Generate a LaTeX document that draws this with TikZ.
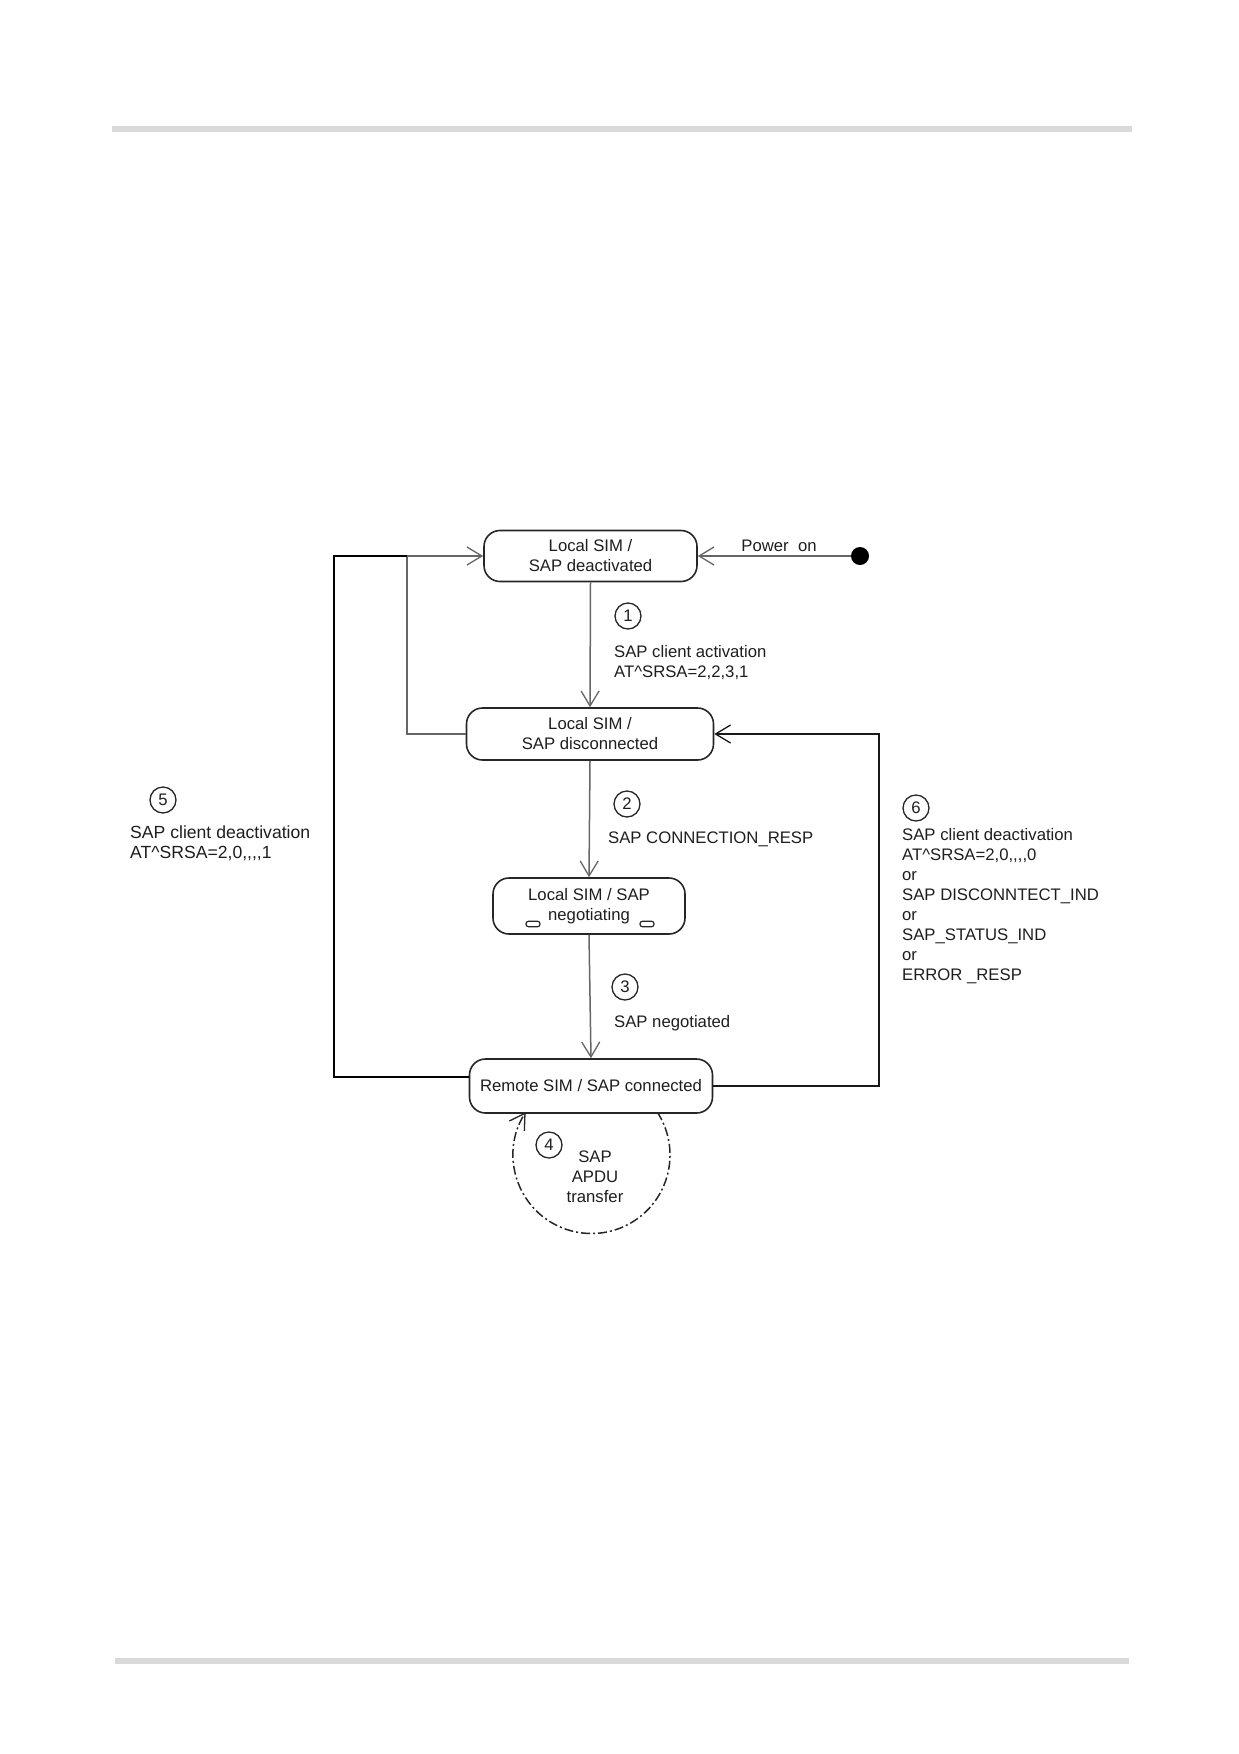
\documentclass[tikz,border=0pt]{standalone}
\usepackage{fontspec}
\setmainfont{Liberation Sans}[Ligatures=TeXOff]
\usetikzlibrary{arrows.meta,positioning,calc}
\definecolor{rulegray}{HTML}{D9D9D9}
\definecolor{linegray}{HTML}{666666}
\definecolor{txt}{HTML}{1E1E1E}
\begin{document}
\begin{tikzpicture}[x=1pt,y=-1pt,
  every node/.style={font=\fontsize{16.7}{20}\selectfont, text=txt},
  statebox/.style={draw=black!85, line width=1.6pt, rounded corners=16pt, align=center, inner sep=2pt},
  num/.style={draw=black!85, circle, line width=1.3pt, minimum size=26pt, inner sep=0pt},
  tip/.style={-{Straight Barb[length=15pt,width=18pt,line width=1.3pt]}},
  conn/.style={draw=linegray, line width=1.5pt, tip},
  lbl/.style={anchor=west, align=left, inner sep=0pt}
]
\useasboundingbox (0,0) rectangle (1239,1754);
% page rules
\fill[rulegray] (112,126) rectangle (1132,132);
\fill[rulegray] (115,1658) rectangle (1129,1664);

% states
\node[statebox, minimum width=213pt, minimum height=51pt] (b1) at (590.5,556) {Local SIM /\\SAP deactivated};
\node[statebox, minimum width=247pt, minimum height=52pt] (b2) at (590,734) {Local SIM /\\SAP disconnected};
\node[statebox, minimum width=192pt, minimum height=56pt] (b3) at (589,906) {Local SIM / SAP\\negotiating};
\node[statebox, minimum width=243pt, minimum height=54pt] (b4) at (591,1086) {Remote SIM / SAP connected};
% small markers in negotiating box
\node[draw=black!85, line width=1.2pt, rounded corners=2.5pt, minimum width=14pt, minimum height=5.5pt, inner sep=0pt] (m1) at (533,924) {};
\node[draw=black!85, line width=1.2pt, rounded corners=2.5pt, minimum width=14pt, minimum height=5.5pt, inner sep=0pt] (m2) at (647,924) {};

% initial dot
\node[circle, fill=black, minimum size=18pt, inner sep=0pt] (dot) at (860,556) {};
\node[anchor=south, inner sep=0pt] (pwr) at (779,552) {Power\ \ on};
\draw[draw=linegray, line width=1.5pt, tip] (dot) -- (b1.east);

% main transitions
\draw[conn] (b1.south) -- (b2.north);
\draw[conn] (b2.south) -- (b3.north);
\draw[conn] (b3.south) -- (b4.north);

% back transitions
\coordinate (l1) at (407,734);
\coordinate (l2) at (407,556);
\draw[conn] (b2.west) -- (l1) -- (l2) -- (b1.west);
\coordinate (o1) at (334,1077);
\coordinate (o2) at (334,556);
\draw[draw=black, line width=2.8pt] ([yshift=9pt]b4.west) -- (o1) -- (o2) -- (l2);
\coordinate (r1) at (879,1086);
\coordinate (r2) at (879,734);
\draw[draw=black!90, line width=1.5pt, tip] (b4.east) -- (r1) -- (r2) -- (b2.east);

% self loop
\coordinate (lc) at (591.5,1155);
\draw[draw=black!85, line width=1.5pt, dash pattern=on 9pt off 3pt on 2pt off 3pt, tip]
  ($(lc)+(-33:78.5)$) arc[start angle=-33, end angle=213, radius=78.5];

% numbers and labels
\node[num] (c1) at (628,616) {1};
\node[lbl] (t1) at (614,663) {SAP client activation\\AT\^{}SRSA=2,2,3,1};
\node[num] (c2) at (627,804) {2};
\node[lbl] (t2) at (608,839) {SAP CONNECTION\_RESP};
\node[num] (c3) at (625,987) {3};
\node[lbl] (t3) at (614,1023) {SAP negotiated};
\node[num] (c4) at (549,1145) {4};
\node[align=center, inner sep=0pt] (t4) at (595,1177) {SAP\\APDU\\transfer};
\node[num] (c5) at (163,800) {5};
\node[lbl, font=\fontsize{17.6}{20}\selectfont] (t5) at (130,843) {SAP client deactivation\\AT\^{}SRSA=2,0,,,,1};
\node[num] (c6) at (916,808) {6};
\node[lbl] (t6) at (902,906) {SAP client deactivation\\AT\^{}SRSA=2,0,,,,0\\or\\SAP DISCONNTECT\_IND\\or\\SAP\_STATUS\_IND\\or\\ERROR \_RESP};
\end{tikzpicture}
\end{document}
